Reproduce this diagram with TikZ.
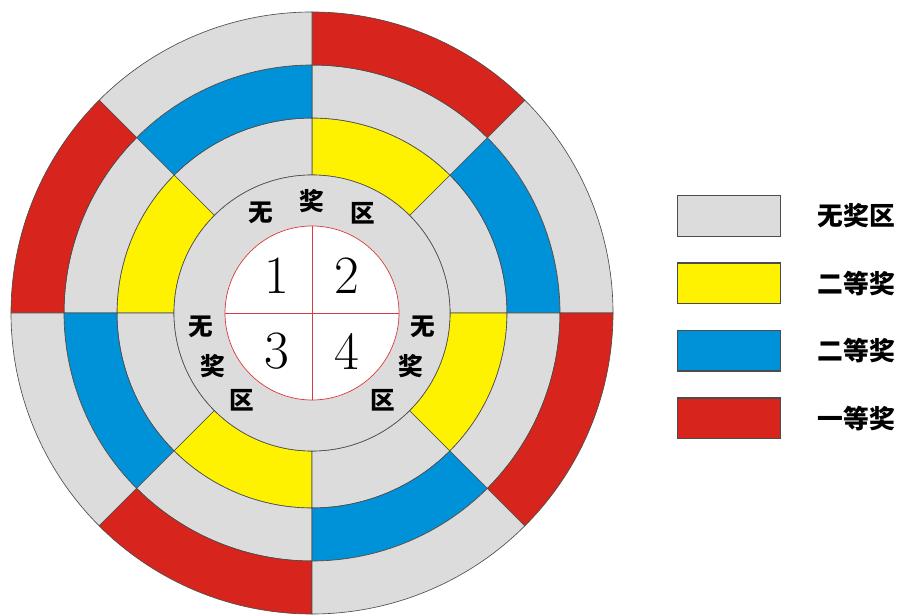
\documentclass[tikz,border=0pt]{standalone}
\usepackage{fontspec}
\newfontfamily\cjk{Noto Sans CJK SC}
\usepackage{tikz}
\usetikzlibrary{positioning}

\definecolor{zonegray}{RGB}{220,220,220}
\definecolor{zoneyellow}{RGB}{255,242,0}
\definecolor{zoneblue}{RGB}{0,146,216}
\definecolor{zonered}{RGB}{215,37,29}
\definecolor{crossred}{RGB}{214,60,60}

\begin{document}
\begin{tikzpicture}[
    x=0.03cm, y=0.03cm,
    sector/.style={draw=black!70, line width=0.55pt},
    zonetext/.style={font=\cjk\bfseries\fontsize{21}{21}\selectfont, inner sep=0pt},
    digit/.style={font=\fontsize{46}{46}\selectfont, inner sep=0pt},
    keybox/.style={draw=black!70, line width=1.2pt, minimum width=3.08cm, minimum height=1.22cm, inner sep=0pt},
    keytext/.style={font=\cjk\bfseries\fontsize{22}{22}\selectfont, inner sep=0pt}
]
\useasboundingbox (0,0) rectangle (901,615);

% target, centred at (312,302)
\begin{scope}[shift={(312,302)}]
  % three outer rings, eight sectors each
  \foreach \ri/\ro/\ca/\cb in {138/195/zonegray/zoneyellow, 195/248/zoneblue/zonegray, 248/301/zonegray/zonered}{
    \foreach \a in {0,90,180,270}{
      \draw[sector, fill=\ca] (\a:\ri) -- (\a:\ro) arc[start angle=\a, end angle=\a+45, radius=\ro]
        -- ({\a+45}:\ri) arc[start angle=\a+45, end angle=\a, radius=\ri] -- cycle;
      \draw[sector, fill=\cb] ({\a+45}:\ri) -- ({\a+45}:\ro) arc[start angle=\a+45, end angle=\a+90, radius=\ro]
        -- ({\a+90}:\ri) arc[start angle=\a+90, end angle=\a+45, radius=\ri] -- cycle;
    }
  }
  % no-prize disc
  \draw[sector, fill=zonegray] (0,0) circle[radius=138];
  \foreach \ang/\ch [count=\i] in {117/无,90/奖,63/区,187/无,208/奖,231/区,-7/无,-28/奖,-51/区}
    \node[zonetext] (zone-\i) at (\ang:112) {\ch};
  % centre quarters
  \draw[crossred, line width=0.6pt, fill=white] (0,0) circle[radius=87];
  \draw[crossred, line width=0.6pt] (0,87) -- (0,-87) (-87,0) -- (87,0);
  \node[digit] (num-1) at (-35,37) {1};
  \node[digit] (num-2) at (35,37) {2};
  \node[digit] (num-3) at (-35,-38) {3};
  \node[digit] (num-4) at (35,-38) {4};
\end{scope}

% legend
\node[keybox, fill=zonegray] (key-none) at (729,399) {};
\node[keybox, fill=zoneyellow, below=0.76cm of key-none] (key-third) {};
\node[keybox, fill=zoneblue, below=0.76cm of key-third] (key-second) {};
\node[keybox, fill=zonered, below=0.76cm of key-second] (key-first) {};
\node[keytext, right=1.1cm of key-none] (txt-none) {无奖区};
\node[keytext, right=1.1cm of key-third] (txt-third) {二等奖};
\node[keytext, right=1.1cm of key-second] (txt-second) {二等奖};
\node[keytext, right=1.1cm of key-first] (txt-first) {一等奖};
\end{tikzpicture}
\end{document}
